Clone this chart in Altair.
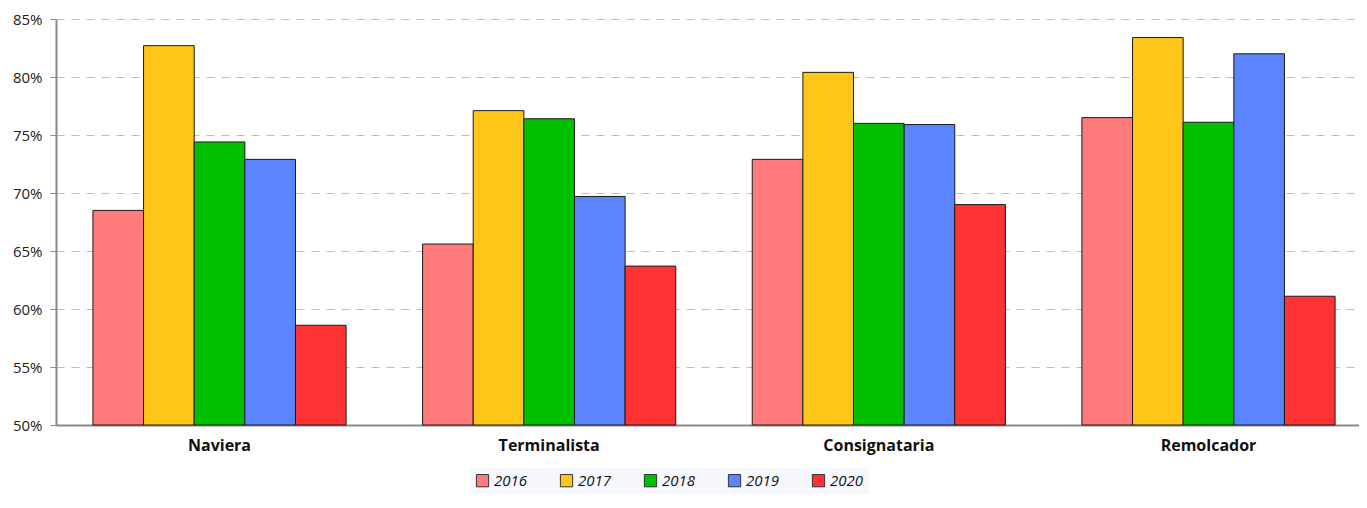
import altair as alt
import pandas as pd

categories = ["Naviera", "Terminalista", "Consignataria", "Remolcador"]
years = ["2016", "2017", "2018", "2019", "2020"]
v2016 = [68.5, 65.6, 72.9, 76.5]
v2017 = [82.7, 77.1, 80.4, 83.4]
v2018 = [74.4, 76.4, 76.0, 76.1]
v2019 = [72.9, 69.7, 75.9, 82.0]
v2020 = [58.6, 63.7, 69.0, 61.1]
colors = ["#FF7B7B", "#FFC61A", "#00C000", "#5B84FF", "#FF3333"]

series = [v2016, v2017, v2018, v2019, v2020]
rows = []
for i, c in enumerate(categories):
    for y, vals in zip(years, series):
        rows.append({"cat": c, "year": y, "value": vals[i]})
df = pd.DataFrame(rows)

FONT = "Open Sans"

chart = alt.Chart(df).mark_bar(stroke="#1a1a1a", strokeWidth=1).encode(
    x=alt.X("cat:N", sort=categories, title=None,
            scale=alt.Scale(paddingInner=0.232, paddingOuter=0.112, range=[0, 1316]),
            axis=alt.Axis(labelAngle=0, ticks=False, labelPadding=12,
                          labelFont=FONT, labelFontWeight="bold", labelFontSize=16,
                          labelColor="#111", domainColor="#888", domainWidth=2, grid=False)),
    xOffset=alt.XOffset("year:N", sort=years, scale=alt.Scale(paddingInner=0, paddingOuter=0)),
    y=alt.Y("value:Q", title=None,
            scale=alt.Scale(domain=[50, 85], zero=False, nice=False),
            axis=alt.Axis(values=[50, 55, 60, 65, 70, 75, 80, 85], labelExpr="datum.value + '%'",
                          labelFont=FONT, labelFontSize=15, labelColor="#222", labelPadding=8,
                          tickSize=6, tickColor="#888", tickWidth=1,
                          domainColor="#888", domainWidth=2,
                          grid=True, gridColor="#bdbdbd", gridDash=[8, 7], gridWidth=1)),
    y2=alt.datum(50),
    color=alt.Color("year:N", sort=years, scale=alt.Scale(domain=years, range=colors),
                    legend=alt.Legend(title=None, orient="none", direction="horizontal",
                                      legendX=414, legendY=449, symbolType="square",
                                      symbolSize=150, symbolStrokeColor="#333", symbolStrokeWidth=1,
                                      labelFont=FONT, labelFontStyle="italic", labelFontSize=15,
                                      labelColor="#111", columnPadding=30, padding=5,
                                      fillColor="#f6f7fc", columns=5)),
).properties(
    width=1303, height=406,
    autosize=alt.AutoSizeParams(type="none"),
    padding={"left": 48, "top": 11, "right": 0, "bottom": 70},
).configure_view(stroke=None)

chart.save("out.html", embed_options={"renderer": "svg", "actions": False})
